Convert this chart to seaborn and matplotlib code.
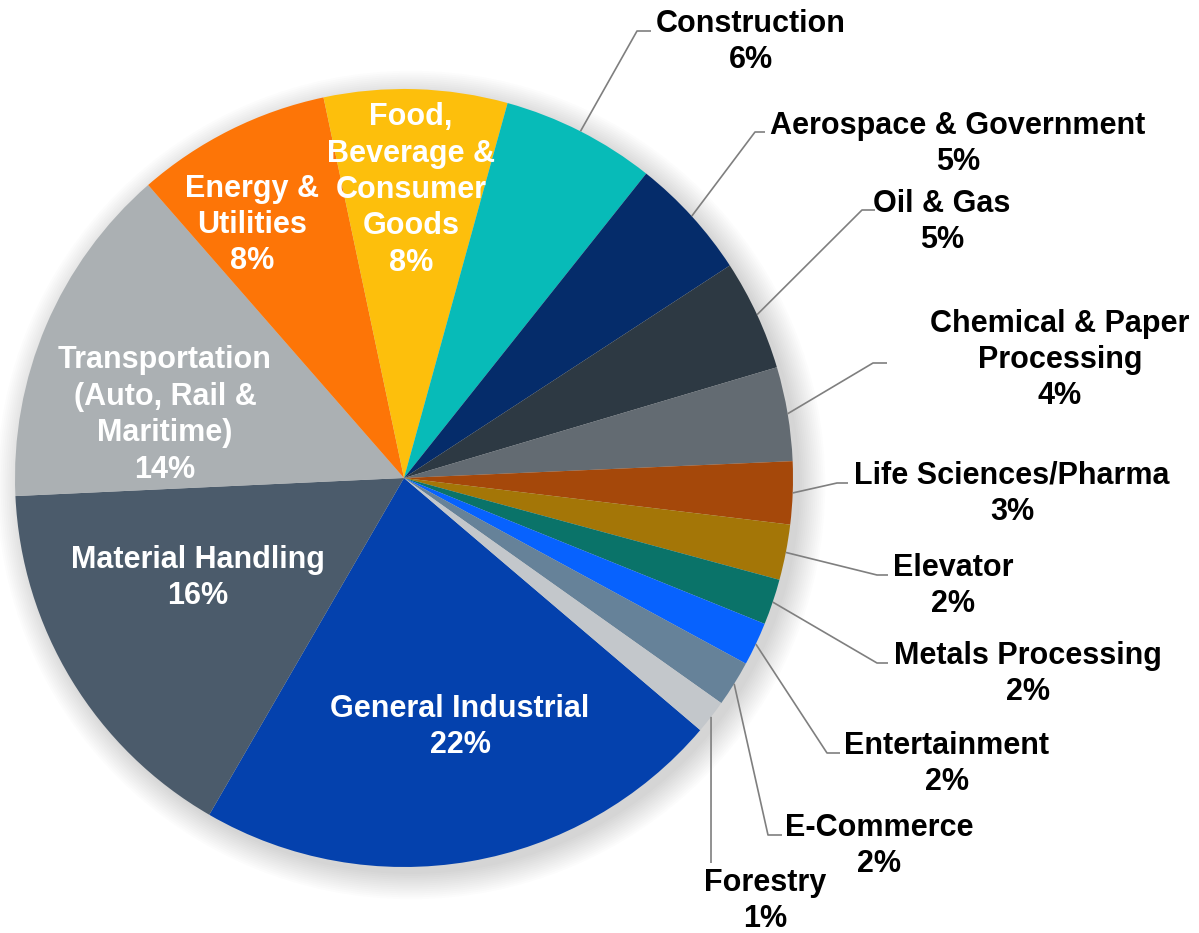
import matplotlib.pyplot as plt
import seaborn as sns
from matplotlib.patches import Circle
import numpy as np

sns.set_theme(style="white")
plt.rcParams['font.family'] = ['Liberation Sans', 'DejaVu Sans']

# data, in slice order (clockwise); shares
sectors = ["General Industrial", "Material Handling",
           "Transportation\n(Auto, Rail &\nMaritime)", "Energy &\nUtilities",
           "Food,\nBeverage &\nConsumer\nGoods", "Construction",
           "Aerospace & Government", "Oil & Gas",
           "Chemical & Paper\nProcessing", "Life Sciences/Pharma", "Elevator",
           "Metals Processing", "Entertainment", "E-Commerce", "Forestry"]
shares = [22.1, 15.9, 14.3, 8.1, 7.6, 6.4, 5.1, 4.6, 3.9, 2.6, 2.3, 1.9,
          1.8, 1.9, 1.4]
colors = ["#0441AD", "#4B5B6B", "#ABB0B3", "#FD7507", "#FDBF0C", "#07BBB8",
          "#052C6A", "#2D3943", "#636B72", "#A5480A", "#A47607", "#0A7369",
          "#0762FE", "#668299", "#C3C7CB"]

# layout (pixels in the 1199x933 canvas)
W, H = 1199, 933
CX, CY, R = 404, 478, 389
label_px = [(460, 727), (198, 578), (165, 415), (252, 225), (411, 190),
            (751, 42), (958, 144), (942, 222), (1060, 360), (1012, 494),
            (953, 586), (1028, 674), (947, 764), (879, 846), (765, 901)]
inside = [True] * 5 + [False] * 10
elbow_px = [None] * 5 + [(637, 31), (755, 132), (862, 210), (873, 363),
                         (837, 483), (877, 575), (877, 663), (827, 753),
                         (768, 835), (711, 863)]
tail_px = [None] * 5 + [14, 10, 13, 14, 11, 11, 11, 13, 14, 0]


def to_data(x, y):
    return (x - CX) / R, (CY - y) / R


fig = plt.figure(figsize=(W / 100, H / 100), dpi=100)
ax = fig.add_axes([0, 0, 1, 1])

# soft shadow behind the pie
for i in range(14):
    ax.add_patch(Circle((0.018, -0.018), 1.0 + i * 0.005, color="black",
                        alpha=0.012, lw=0, zorder=0))

wedges, _ = ax.pie(shares, colors=colors, startangle=-40.4, counterclock=False,
                   radius=1, wedgeprops=dict(linewidth=0, zorder=1))

for w, name, v, pos, ins, el, tl in zip(wedges, sectors, shares, label_px,
                                        inside, elbow_px, tail_px):
    tx, ty = to_data(*pos)
    ax.text(tx, ty, f"{name}\n{round(v)}%", ha="center", va="center",
            multialignment="center", fontsize=22, fontweight="bold",
            color="white" if ins else "black", linespacing=1.28, zorder=3)
    if el is not None:
        mid = np.deg2rad((w.theta1 + w.theta2) / 2)
        sx, sy = np.cos(mid), np.sin(mid)
        ex, ey = to_data(*el)
        xs = [sx, ex, ex + tl / R]
        ys = [sy, ey, ey]
        ax.plot(xs, ys, color="#7F7F7F", lw=1.2, zorder=2,
                solid_capstyle="butt")

ax.set_xlim(-CX / R, (W - CX) / R)
ax.set_ylim((CY - H) / R, CY / R)
ax.set_aspect("auto")
ax.axis("off")

fig.savefig("out.png", dpi=100, facecolor="white")
